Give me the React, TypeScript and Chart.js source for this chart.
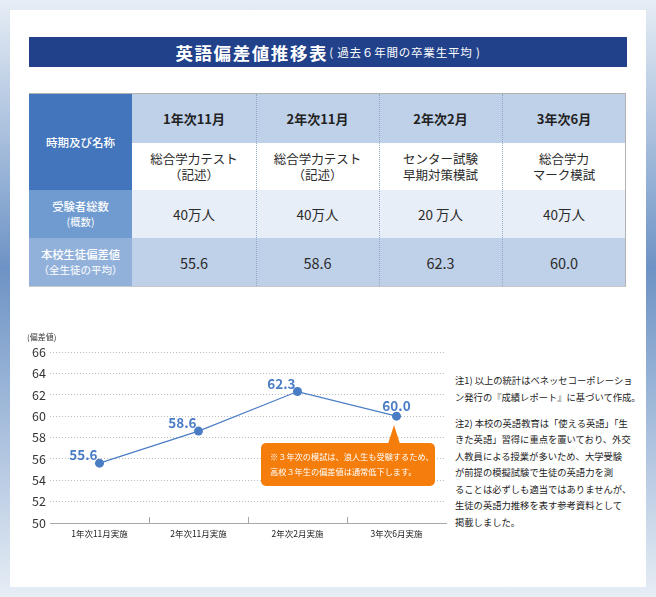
import React, { useEffect, useRef } from 'react';
import { Chart, registerables } from 'chart.js';

Chart.register(...registerables);

const FONT = '"Noto Sans CJK JP", "Noto Sans", sans-serif';

// ---- data ----
const periods = ['1年次11月', '2年次11月', '2年次2月', '3年次6月'];
const testNames = [
  ['総合学力テスト', '（記述）'],
  ['総合学力テスト', '（記述）'],
  ['センター試験', '早期対策模試'],
  ['総合学力', 'マーク模試'],
];
const examinees = ['40万人', '40万人', '20 万人', '40万人'];
const categories = ['1年次11月実施', '2年次11月実施', '2年次2月実施', '3年次6月実施'];
const scores = [55.6, 58.6, 62.3, 60.0];
const yMin = 50;
const yMax = 66;
const yStep = 2;
const titleMain = '英語偏差値推移表';
const titleSub = '( 過去６年間の卒業生平均 )';
const rowHeads = [['時期及び名称'], ['受験者総数', '(概数)'], ['本校生徒偏差値', '（全生徒の平均）']];
const yTitle = '(偏差値)';
const calloutLines = ['※３年次の模試は、浪人生も受験するため、', '高校３年生の偏差値は通常低下します。'];
const notes1 = ['注1) 以上の統計はベネッセコーポレーショ', 'ン発行の『成績レポート』に基づいて作成。'];
const notes2 = [
  '注2) 本校の英語教育は「使える英語」「生',
  'きた英語」習得に重点を置いており、外交',
  '人教員による授業が多いため、大学受験',
  'が前提の模擬試験で生徒の英語力を測',
  'ることは必ずしも適当ではありませんが、',
  '生徒の英語力推移を表す参考資料として',
  '掲載しました。',
];

const LINE = '#4b7dc5';
const colX = [29, 132, 256, 379, 502, 626];
const rowY = [94, 143, 190, 238, 286];

function Cell(props: { x0: number; x1: number; y0: number; y1: number; bg: string; style?: any; children?: any }) {
  const { x0, x1, y0, y1, bg, style, children } = props;
  return (
    <div
      style={{
        position: 'absolute',
        left: x0,
        top: y0,
        width: x1 - x0,
        height: y1 - y0,
        background: bg,
        display: 'flex',
        flexDirection: 'column',
        alignItems: 'center',
        justifyContent: 'center',
        textAlign: 'center',
        whiteSpace: 'nowrap',
        color: '#2a2a2a',
        ...style,
      }}
    >
      {children}
    </div>
  );
}

function Table() {
  const headBg = '#bfd1e8';
  const rowBgs = [headBg, '#ffffff', '#e8eef7', headBg];
  const cells: any[] = [];
  cells.push(
    <Cell key="h0" x0={colX[0]} x1={colX[1]} y0={rowY[0]} y1={rowY[2]} bg="#4275bb"
      style={{ color: '#fff', fontSize: 11.5, fontWeight: 500 }}>
      <div>{rowHeads[0][0]}</div>
    </Cell>
  );
  cells.push(
    <Cell key="h1" x0={colX[0]} x1={colX[1]} y0={rowY[2]} y1={rowY[3]} bg="#6f9bd0"
      style={{ color: '#fff', fontSize: 11.3, lineHeight: '15px' }}>
      <div style={{ fontWeight: 500 }}>{rowHeads[1][0]}</div>
      <div style={{ fontSize: 10.5 }}>{rowHeads[1][1]}</div>
    </Cell>
  );
  cells.push(
    <Cell key="h2" x0={colX[0]} x1={colX[1]} y0={rowY[3]} y1={rowY[4]} bg="#92b1da"
      style={{ color: '#fff', fontSize: 11.3, lineHeight: '15px' }}>
      <div style={{ fontWeight: 500 }}>{rowHeads[2][0]}</div>
      <div style={{ fontSize: 10.5 }}>{rowHeads[2][1]}</div>
    </Cell>
  );
  for (let i = 0; i < periods.length; i++) {
    const x0 = colX[i + 1];
    const x1 = colX[i + 2];
    cells.push(
      <Cell key={'p' + i} x0={x0} x1={x1} y0={rowY[0]} y1={rowY[1]} bg={rowBgs[0]}
        style={{ fontSize: 13, fontWeight: 700, color: '#222' }}>
        <div>{periods[i]}</div>
      </Cell>
    );
    cells.push(
      <Cell key={'t' + i} x0={x0} x1={x1} y0={rowY[1]} y1={rowY[2]} bg={rowBgs[1]}
        style={{ fontSize: 12.5, lineHeight: '16px' }}>
        <div>{testNames[i][0]}</div>
        <div>{testNames[i][1]}</div>
      </Cell>
    );
    cells.push(
      <Cell key={'e' + i} x0={x0} x1={x1} y0={rowY[2]} y1={rowY[3]} bg={rowBgs[2]}
        style={{ fontSize: 13.5 }}>
        <div>{examinees[i]}</div>
      </Cell>
    );
    cells.push(
      <Cell key={'s' + i} x0={x0} x1={x1} y0={rowY[3]} y1={rowY[4]} bg={rowBgs[3]}
        style={{ fontSize: 14.5 }}>
        <div>{scores[i].toFixed(1)}</div>
      </Cell>
    );
  }
  for (let j = 2; j <= 4; j++) {
    cells.push(
      <div key={'d' + j} style={{ position: 'absolute', left: colX[j], top: rowY[0], width: 0, height: rowY[4] - rowY[0], borderLeft: '1px dotted #93a8c6' }} />
    );
  }
  cells.push(
    <div key="border" style={{ position: 'absolute', left: colX[0], top: rowY[0] - 1, width: colX[5] - colX[0] - 1, height: rowY[4] - rowY[0], borderTop: '1px solid #b2b2b2', borderRight: '1px solid #b2b2b2', borderBottom: '1px solid #c8c8c8' }} />
  );
  return <>{cells}</>;
}

function LineChart() {
  const ref = useRef<HTMLCanvasElement>(null);
  useEffect(() => {
    const labelAlign = ['right', 'right', 'right', 'center'];
    const valueLabels = {
      id: 'valueLabels',
      afterDatasetsDraw(chart: any) {
        const ctx = chart.ctx;
        const meta = chart.getDatasetMeta(0);
        ctx.save();
        ctx.fillStyle = LINE;
        ctx.font = 'bold 13.5px ' + FONT;
        ctx.textBaseline = 'middle';
        meta.data.forEach((el: any, i: number) => {
          const v = chart.data.datasets[0].data[i] as number;
          const txt = v.toFixed(1);
          if (labelAlign[i] === 'center') {
            ctx.textAlign = 'center';
            ctx.fillText(txt, el.x, el.y - 10);
          } else {
            ctx.textAlign = 'right';
            ctx.fillText(txt, el.x - 2, el.y - 8);
          }
        });
        ctx.restore();
      },
    };
    const boundaryTicks = {
      id: 'boundaryTicks',
      afterDraw(chart: any) {
        const ctx = chart.ctx;
        const xs = chart.scales.x;
        const bottom = chart.chartArea.bottom;
        ctx.save();
        ctx.strokeStyle = '#a8a8a8';
        ctx.lineWidth = 1;
        for (let i = 1; i < categories.length; i++) {
          const x = Math.round((xs.getPixelForValue(i - 1) + xs.getPixelForValue(i)) / 2) + 0.5;
          ctx.beginPath();
          ctx.moveTo(x, bottom - 6);
          ctx.lineTo(x, bottom);
          ctx.stroke();
        }
        ctx.restore();
      },
    };
    const chart = new Chart(ref.current as HTMLCanvasElement, {
      type: 'line',
      data: {
        labels: categories,
        datasets: [
          {
            data: scores,
            borderColor: LINE,
            backgroundColor: LINE,
            borderWidth: 1.2,
            pointRadius: 4.5,
            pointBackgroundColor: LINE,
            pointBorderWidth: 0,
            tension: 0,
          },
        ],
      },
      options: {
        responsive: false,
        animation: false,
        devicePixelRatio: 1,
        layout: { padding: { top: 32, right: 6, left: 0, bottom: 0 } },
        plugins: { legend: { display: false }, tooltip: { enabled: false } },
        scales: {
          x: {
            offset: true,
            grid: { display: false, drawTicks: false },
            border: { color: '#a8a8a8', width: 1 },
            ticks: { color: '#222', font: { family: FONT, size: 8.5 }, padding: 6, maxRotation: 0, autoSkip: false },
            afterFit: (s: any) => {
              s.height = 29;
            },
          },
          y: {
            min: yMin,
            max: yMax,
            ticks: { stepSize: yStep, color: '#333', font: { family: FONT, size: 12.5 }, padding: 4 },
            grid: { color: '#bdbdbd', drawTicks: false },
            border: { display: false, dash: [1, 2] },
            afterFit: (s: any) => {
              s.width = 50;
            },
          },
        },
      },
      plugins: [valueLabels, boundaryTicks],
    } as any);
    return () => chart.destroy();
  }, []);
  return (
    <canvas
      ref={ref}
      width={452}
      height={232}
      style={{ position: 'absolute', left: 0, top: 320, width: 452, height: 232 }}
    />
  );
}

export default function App() {
  return (
    <div
      style={{
        position: 'absolute',
        left: 0,
        top: 0,
        width: 656,
        height: 597,
        overflow: 'hidden',
        fontFamily: FONT,
        background: 'linear-gradient(to bottom, #e6edf5 0%, #6d93c5 45%, #e6edf5 100%)',
      }}
    >
      <div style={{ position: 'absolute', left: 10, top: 10, width: 636, height: 577, background: '#fff' }} />
      <div
        style={{
          position: 'absolute',
          left: 29,
          top: 37,
          width: 598,
          height: 30,
          background: '#21418b',
          color: '#fff',
          display: 'flex',
          alignItems: 'center',
          justifyContent: 'center',
          whiteSpace: 'nowrap',
        }}
      >
        <span style={{ fontSize: 17.5, fontWeight: 700, letterSpacing: 1.6 }}>{titleMain}</span>
        <span style={{ fontSize: 11.5, marginLeft: 1, letterSpacing: 0.8 }}>{titleSub}</span>
      </div>
      <Table />
      <LineChart />
      <div style={{ position: 'absolute', left: 27, top: 331, fontSize: 8, color: '#333', lineHeight: '12px', whiteSpace: 'nowrap' }}>
        {yTitle}
      </div>
      <div style={{ position: 'absolute', left: 261, top: 443, width: 174, height: 43, background: '#f57d0c', borderRadius: 5 }} />
      <div
        style={{
          position: 'absolute',
          left: 388,
          top: 425,
          width: 0,
          height: 0,
          borderLeft: '6px solid transparent',
          borderRight: '6px solid transparent',
          borderBottom: '19px solid #f57d0c',
        }}
      />
      <div style={{ position: 'absolute', left: 270, top: 449, color: '#fff', fontSize: 8.2, lineHeight: '15px', whiteSpace: 'nowrap' }}>
        {calloutLines.map((l, i) => (
          <div key={i}>{l}</div>
        ))}
      </div>
      <div style={{ position: 'absolute', left: 455, top: 372, color: '#222', fontSize: 9.3, lineHeight: '16.5px', whiteSpace: 'nowrap' }}>
        {notes1.map((l, i) => (
          <div key={'a' + i}>{l}</div>
        ))}
        <div style={{ height: 9.5 }} />
        {notes2.map((l, i) => (
          <div key={'b' + i}>{l}</div>
        ))}
      </div>
    </div>
  );
}
